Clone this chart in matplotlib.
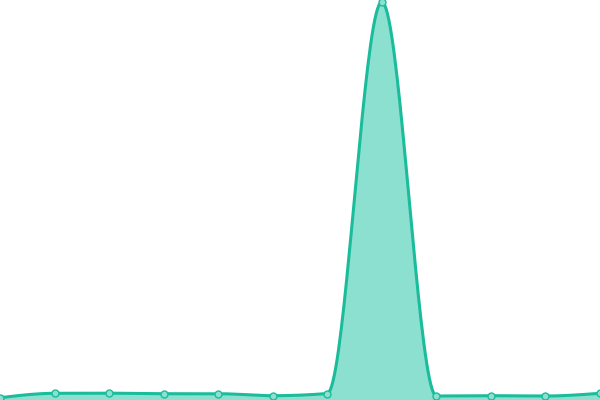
import numpy as np
import matplotlib
matplotlib.use("Agg")
import matplotlib.pyplot as plt

# values (pixel heights above the bottom edge)
positions = list(range(12))
values = [2.3, 6.7, 6.8, 6.3, 6.3, 4.3, 6.5, 398, 4.0, 4.3, 4.0, 6.7]

LINE = "#1abc9c"
FILL = "#8ce0cf"


# monotone cubic like d3.curveMonotoneX
def monotone_curve(x, y, n=40):
    x = np.asarray(x, float)
    y = np.asarray(y, float)
    h = np.diff(x)
    s = np.diff(y) / h
    t = np.zeros(len(x))
    for i in range(1, len(x) - 1):
        p = (s[i - 1] * h[i] + s[i] * h[i - 1]) / (h[i - 1] + h[i])
        t[i] = (np.sign(s[i - 1]) + np.sign(s[i])) * min(abs(s[i - 1]), abs(s[i]), 0.5 * abs(p))
    t[0] = (3 * s[0] - t[1]) / 2
    t[-1] = (3 * s[-1] - t[-2]) / 2
    xs, ys = [], []
    u = np.linspace(0, 1, n)
    for i in range(len(x) - 1):
        dx = h[i] / 3
        p0 = (x[i], y[i])
        p1 = (x[i] + dx, y[i] + dx * t[i])
        p2 = (x[i + 1] - dx, y[i + 1] - dx * t[i + 1])
        p3 = (x[i + 1], y[i + 1])
        for k in range(2):
            xs_seg = ((1 - u) ** 3 * p0[k] + 3 * (1 - u) ** 2 * u * p1[k]
                      + 3 * (1 - u) * u ** 2 * p2[k] + u ** 3 * p3[k])
            (xs if k == 0 else ys).append(xs_seg)
    return np.concatenate(xs), np.concatenate(ys)


cx, cy = monotone_curve(positions, values)

fig = plt.figure(figsize=(6, 4), dpi=100)
ax = fig.add_axes([0, 0, 1, 1])
ax.fill_between(cx, cy, 0, color=FILL, linewidth=0)
ax.plot(cx, cy, color=LINE, linewidth=2.2, solid_capstyle="round")
ax.plot(positions, values, linestyle="none", marker="o", markersize=5,
        markerfacecolor=FILL, markeredgecolor=LINE, markeredgewidth=1, clip_on=True)
ax.set_xlim(0, 11)
ax.set_ylim(0, 400)
ax.axis("off")
fig.savefig("out.png", dpi=100)
